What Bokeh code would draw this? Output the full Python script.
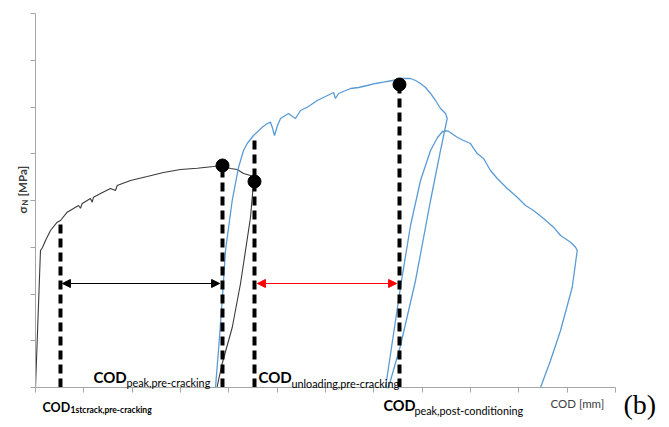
import math
from bokeh.plotting import figure
from bokeh.models import Range1d, FixedTicker, Label, Arrow, NormalHead, LinearAxis
from bokeh.embed import file_html
from bokeh.resources import INLINE

# ---------------- data (COD in mm, nominal stress in MPa) ----------------
x_ticks = [0.0, 0.1, 0.2, 0.3, 0.4, 0.5, 0.6, 0.7, 0.8, 0.9, 1.0, 1.1, 1.2]
y_ticks = [0, 1, 2, 3, 4, 5, 6, 7, 8]

# pre-cracking test (loading + unloading)
pre_cod = [0.0, 0.0103, 0.0145, 0.0207, 0.0310, 0.0449, 0.0517, 0.0656, 0.0786,
           0.0890, 0.0931, 0.0966, 0.1138, 0.1173, 0.1200, 0.1345, 0.1552, 0.1655,
           0.1690, 0.1966, 0.2311, 0.2648, 0.3000, 0.3346, 0.3683, 0.3863, 0.4035,
           0.4173, 0.4304, 0.4448, 0.4511,
           0.4448, 0.4242, 0.4070, 0.3863, 0.3786, 0.3755]
pre_sigma = [0.0, 2.930, 2.995, 3.144, 3.358, 3.536, 3.572, 3.750, 3.829,
             3.893, 3.835, 3.936, 4.043, 3.964, 4.071, 4.150, 4.257, 4.214,
             4.321, 4.428, 4.513, 4.599, 4.663, 4.691, 4.727, 4.749, 4.684,
             4.663, 4.578, 4.535, 4.391,
             3.636, 2.225, 1.283, 0.513, 0.150, 0.0]

# post-conditioning test (loading, unloading, reloading, softening, unloading)
post_cod = [0.3724, 0.3786, 0.3863, 0.3931, 0.4070, 0.4200, 0.4304, 0.4380, 0.4511,
            0.4691, 0.4794, 0.4862, 0.4898, 0.4945, 0.5007, 0.5069, 0.5235, 0.5318,
            0.5380, 0.5483, 0.5648, 0.5829, 0.6000, 0.6166, 0.6207, 0.6269, 0.6518,
            0.6683, 0.6863, 0.7035, 0.7201, 0.7387, 0.7552, 0.7759, 0.7863, 0.7966,
            0.8070, 0.8173, 0.8277, 0.8380, 0.8483, 0.8518,
            0.8380, 0.8173, 0.7863, 0.7552, 0.7304,
            0.7242, 0.7387, 0.7573, 0.7759, 0.7966, 0.8173, 0.8318, 0.8421, 0.8504,
            0.8545, 0.8725, 0.8856, 0.9000, 0.9139, 0.9270, 0.9414, 0.9553, 0.9760,
            0.9967, 1.0139, 1.0304, 1.0511, 1.0718, 1.0863, 1.1070, 1.1173, 1.1208,
            1.1105, 1.0863, 1.0656, 1.0449]
post_sigma = [0.0, 0.791, 1.861, 2.930, 4.000, 4.706, 5.070, 5.219, 5.390,
              5.568, 5.647, 5.675, 5.568, 5.390, 5.604, 5.754, 5.861, 5.797,
              5.754, 5.925, 6.011, 6.139, 6.225, 6.310, 6.182, 6.289, 6.396,
              6.417, 6.460, 6.503, 6.531, 6.567, 6.610, 6.610, 6.567, 6.503,
              6.417, 6.289, 6.139, 5.968, 5.861, 5.754,
              5.070, 4.000, 2.289, 0.898, 0.0,
              0.0, 1.005, 2.289, 3.465, 4.428, 5.070, 5.348, 5.476, 5.487,
              5.482, 5.354, 5.283, 5.219, 5.005, 4.898, 4.642, 4.471, 4.257,
              4.071, 3.893, 3.786, 3.615, 3.429, 3.251, 3.108, 3.001, 2.930,
              2.145, 1.219, 0.578, 0.0]

# characteristic CODs (dashed markers) and their upper ends
mark_cod = [0.0517, 0.3869, 0.4531, 0.7531]
mark_top = [3.55, 4.749, 5.305, 6.481]
mark_base = [0, 0, 0, 0]

# peak / unloading points
dot_cod = [0.3869, 0.4531, 0.7531]
dot_sigma = [4.749, 4.406, 6.481]

arrow_level = 2.225

# ---------------- figure ----------------
p = figure(width=667, height=425, output_backend="svg", toolbar_location=None,
           x_range=Range1d(-0.07241, 1.30759), y_range=Range1d(-0.8128, 8.2781),
           x_axis_location=None, y_axis_location=None,
           min_border_left=0, min_border_right=0, min_border_top=0, min_border_bottom=0)
p.outline_line_color = None
p.grid.visible = False
p.background_fill_color = "white"

xax = LinearAxis(fixed_location=0, bounds=(0, 1.2), ticker=FixedTicker(ticks=x_ticks))
yax = LinearAxis(fixed_location=0, bounds=(0, 8), ticker=FixedTicker(ticks=y_ticks))
for ax in (xax, yax):
    ax.axis_line_color = "#a6a6a6"
    ax.major_tick_line_color = "#a6a6a6"
    ax.major_tick_out = 5
    ax.major_tick_in = 0
    ax.minor_tick_line_color = None
    ax.major_label_text_color = None
p.add_layout(xax, "below")
p.add_layout(yax, "left")

p.line(pre_cod, pre_sigma, line_color="#3a3a3a", line_width=1.1)
p.line(post_cod, post_sigma, line_color="#5b9bd5", line_width=1.3)

p.segment(x0=mark_cod, y0=mark_base, x1=mark_cod, y1=mark_top,
          line_color="black", line_width=4, line_dash="9 5")

p.scatter(dot_cod, dot_sigma, size=13, color="black")

p.add_layout(Arrow(start=NormalHead(size=8, fill_color="black", line_color="black"),
                   end=NormalHead(size=8, fill_color="black", line_color="black"),
                   x_start=mark_cod[0] + 0.004, y_start=arrow_level,
                   x_end=mark_cod[1] - 0.006, y_end=arrow_level,
                   line_color="black", line_width=1.2))
p.add_layout(Arrow(start=NormalHead(size=8, fill_color="red", line_color="red"),
                   end=NormalHead(size=8, fill_color="red", line_color="red"),
                   x_start=mark_cod[2] + 0.006, y_start=arrow_level,
                   x_end=mark_cod[3] - 0.006, y_end=arrow_level,
                   line_color="red", line_width=1.2))

FONT = "Lato"


def lab(x, y, text, size, bold=False, color="black", angle=0.0, font=FONT, x_offset=0):
    p.add_layout(Label(x=x, y=y, text=text, text_font=font, text_font_size=f"{size}px",
                       text_font_style="bold" if bold else "normal", text_color=color,
                       angle=angle, text_baseline="alphabetic", text_align="left",
                       x_offset=x_offset))


# COD peak, pre-cracking
lab(0.120, 0.214, "COD", 15, bold=True)
lab(0.120, 0.107, "peak,pre-cracking", 10.8, x_offset=33)
# COD unloading, pre-cracking
lab(0.4614, 0.214, "COD", 15, bold=True)
lab(0.4614, 0.086, "unloading,pre-cracking", 10.8, x_offset=33)
# COD 1st crack, pre-cracking
lab(0.0145, -0.428, "COD", 12.5, bold=True)
lab(0.0145, -0.471, "1stcrack,pre-cracking", 8.5, bold=True, x_offset=28)
# COD peak, post-conditioning
lab(0.720, -0.385, "COD", 14.5, bold=True)
lab(0.720, -0.492, "peak,post-conditioning", 10.8, x_offset=31)

# axis titles
lab(1.0656, -0.342, "COD [mm]", 11.5, color="#404040")
lab(-0.0269, 3.722, "σ", 11.5, bold=True, color="#404040", angle=math.pi / 2)
lab(-0.0207, 3.893, "N", 7.5, bold=True, color="#404040", angle=math.pi / 2)
lab(-0.0269, 4.086, "[MPa]", 11.5, bold=True, color="#404040", angle=math.pi / 2)

# panel tag
lab(1.2166, -0.37, "(b)", 28, font="Liberation Serif")

open("out.html", "w").write(file_html(p, INLINE))
